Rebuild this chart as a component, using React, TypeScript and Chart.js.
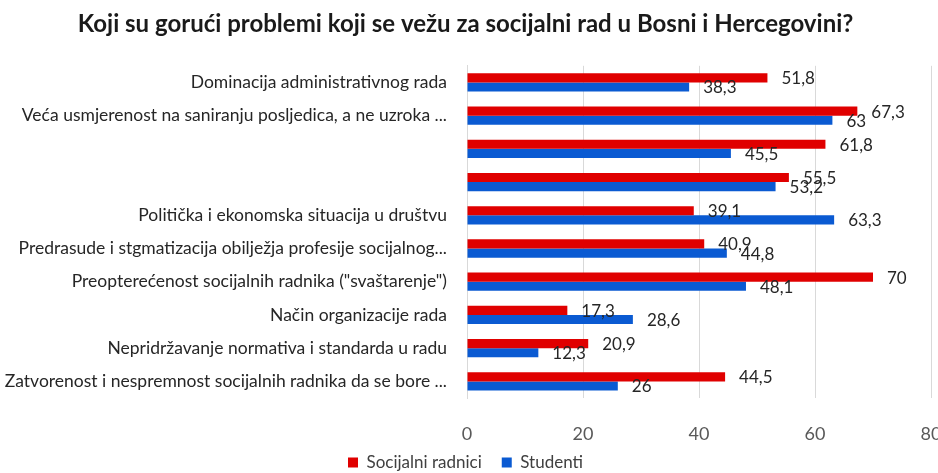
import React, { useEffect, useRef } from "react";
import { Chart, registerables } from "chart.js";

Chart.register(...registerables);

const titleText = "Koji su gorući problemi koji se vežu za socijalni rad u Bosni i Hercegovini?";

const categories = [
  "Dominacija administrativnog rada",
  "Veća usmjerenost na saniranju posljedica, a ne uzroka ...",
  "",
  "",
  "Politička i ekonomska situacija u društvu",
  "Predrasude i stgmatizacija obilježja profesije socijalnog...",
  'Preopterećenost socijalnih radnika ("svaštarenje")',
  "Način organizacije rada",
  "Nepridržavanje normativa i standarda u radu",
  "Zatvorenost i nespremnost socijalnih radnika da se bore ...",
];

const seriesNames = ["Socijalni radnici", "Studenti"];
const socijalniRadnici = [51.8, 67.3, 61.8, 55.5, 39.1, 40.9, 70, 17.3, 20.9, 44.5];
const studenti = [38.3, 63, 45.5, 53.2, 63.3, 44.8, 48.1, 28.6, 12.3, 26];

const xTicks = [0, 20, 40, 60, 80];

const RED = "#E00000";
const BLUE = "#0A5AD2";
const FONT = "Lato, 'Open Sans', sans-serif";

const fmt = (v: number) => String(v).replace(".", ",");

const dataLabelPlugin = {
  id: "dataLabels",
  afterDatasetsDraw(chart: any) {
    const ctx = chart.ctx;
    ctx.save();
    ctx.font = `17px ${FONT}`;
    ctx.fillStyle = "#262626";
    ctx.textAlign = "left";
    ctx.textBaseline = "middle";
    chart.data.datasets.forEach((ds: any, i: number) => {
      const meta = chart.getDatasetMeta(i);
      meta.data.forEach((el: any, j: number) => {
        const { x, y } = el.getProps(["x", "y"], true);
        ctx.fillText(fmt(ds.data[j]), x + 14, y + 1);
      });
    });
    ctx.restore();
  },
};

export default function App() {
  const ref = useRef<HTMLCanvasElement | null>(null);

  useEffect(() => {
    if (!ref.current) return;
    const chart = new Chart(ref.current, {
      type: "bar",
      data: {
        labels: categories,
        datasets: [
          {
            label: seriesNames[0],
            data: socijalniRadnici,
            backgroundColor: RED,
            categoryPercentage: 0.55,
            barPercentage: 1.0,
          },
          {
            label: seriesNames[1],
            data: studenti,
            backgroundColor: BLUE,
            categoryPercentage: 0.55,
            barPercentage: 1.0,
          },
        ],
      },
      options: {
        indexAxis: "y",
        responsive: false,
        animation: false,
        layout: { padding: { left: 0, right: 29, top: 0, bottom: 0 } },
        plugins: {
          title: {
            display: true,
            text: titleText,
            color: "#1a1a1a",
            font: { family: FONT, size: 24, weight: "bold" },
            padding: { top: 10, bottom: 27 },
          },
          legend: {
            position: "bottom",
            labels: {
              boxWidth: 10,
              boxHeight: 10,
              padding: 20,
              color: "#404040",
              font: { family: FONT, size: 17 },
            },
          },
          tooltip: { enabled: false },
        },
        scales: {
          x: {
            min: 0,
            max: 80,
            afterBuildTicks(scale: any) {
              scale.ticks = xTicks.map((v) => ({ value: v }));
            },
            grid: { color: "#d9d9d9", drawTicks: false },
            border: { display: false },
            ticks: {
              color: "#595959",
              font: { family: FONT, size: 18 },
              padding: 25,
            },
            afterFit(scale: any) {
              scale.height = 36;
              scale.paddingLeft = 0;
              scale.paddingRight = 0;
              scale._computeLabelArea = () => null;
            },
          },
          y: {
            grid: { display: false, drawTicks: false },
            border: { display: true, color: "#d9d9d9" },
            ticks: {
              color: "#262626",
              font: { family: FONT, size: 17.5 },
              padding: 20,
              autoSkip: false,
            },
            afterFit(scale: any) {
              scale.width = 467;
            },
          },
        },
      },
      plugins: [dataLabelPlugin],
    });
    return () => chart.destroy();
  }, []);

  return (
    <div
      style={{
        position: "fixed",
        left: 0,
        top: 0,
        width: 938,
        height: 473,
        overflow: "hidden",
        background: "#fff",
      }}
    >
      <canvas ref={ref} width={960} height={481} style={{ display: "block" }} />
    </div>
  );
}
